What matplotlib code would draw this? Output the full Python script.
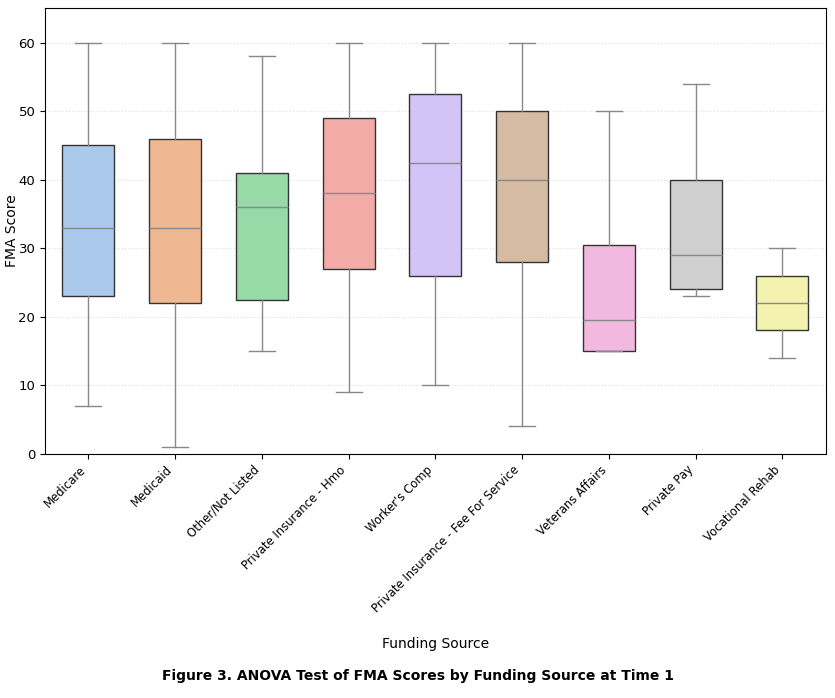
import matplotlib
matplotlib.use("Agg")
import matplotlib.pyplot as plt
import seaborn as sns

# funding sources and box statistics
sources = ["Medicare", "Medicaid", "Other/Not Listed", "Private Insurance - Hmo",
           "Worker's Comp", "Private Insurance - Fee For Service",
           "Veterans Affairs", "Private Pay", "Vocational Rehab"]
whis_lo = [7, 1, 15, 9, 10, 4, 15, 23, 14]
q1 = [23, 22, 22.5, 27, 26, 28, 15, 24, 18]
median = [33, 33, 36, 38, 42.5, 40, 19.5, 29, 22]
q3 = [45, 46, 41, 49, 52.5, 50, 30.5, 40, 26]
whis_hi = [60, 60, 58, 60, 60, 60, 50, 54, 30]

colors = [sns.desaturate(c, 0.75) for c in sns.color_palette("pastel", len(sources))]

stats = []
for i, name in enumerate(sources):
    stats.append({"label": name, "whislo": whis_lo[i], "q1": q1[i], "med": median[i],
                  "q3": q3[i], "whishi": whis_hi[i], "fliers": []})

fig, ax = plt.subplots(figsize=(8.35, 6.98), dpi=100)
bp = ax.bxp(stats, positions=range(len(sources)), widths=0.6, patch_artist=True,
            showfliers=False,
            boxprops=dict(edgecolor="#333333", linewidth=1.0),
            whiskerprops=dict(color="#888888", linewidth=1.0),
            capprops=dict(color="#888888", linewidth=1.0),
            medianprops=dict(color="#888888", linewidth=1.0))
for patch, c in zip(bp["boxes"], colors):
    patch.set_facecolor(c)
for cap in bp["caps"]:
    x = cap.get_xdata()
    mid = (x[0] + x[1]) / 2
    cap.set_xdata([mid - 0.15, mid + 0.15])

ax.set_xlim(-0.5, len(sources) - 0.5)
ax.set_ylim(0, 65)
ax.set_yticks(range(0, 61, 10))
ax.yaxis.grid(True, linestyle=":", color="#dddddd", linewidth=0.8)
ax.set_axisbelow(True)
ax.set_xticks(range(len(sources)))
ax.set_xticklabels(sources, rotation=45, ha="right", fontsize=8.4)
ax.tick_params(axis="y", labelsize=9.5)
ax.set_ylabel("FMA Score", fontsize=10)
ax.set_xlabel("Funding Source", fontsize=10, va="center")
ax.yaxis.set_label_coords(-0.034, 0.5)
ax.xaxis.set_label_coords(0.5, -0.427)

fig.subplots_adjust(left=0.054, right=0.989, top=0.988, bottom=0.35)
fig.text(0.5, 0.0315, "Figure 3. ANOVA Test of FMA Scores by Funding Source at Time 1",
         ha="center", va="center", fontsize=10, fontweight="bold")
fig.savefig("out.png", dpi=100)
